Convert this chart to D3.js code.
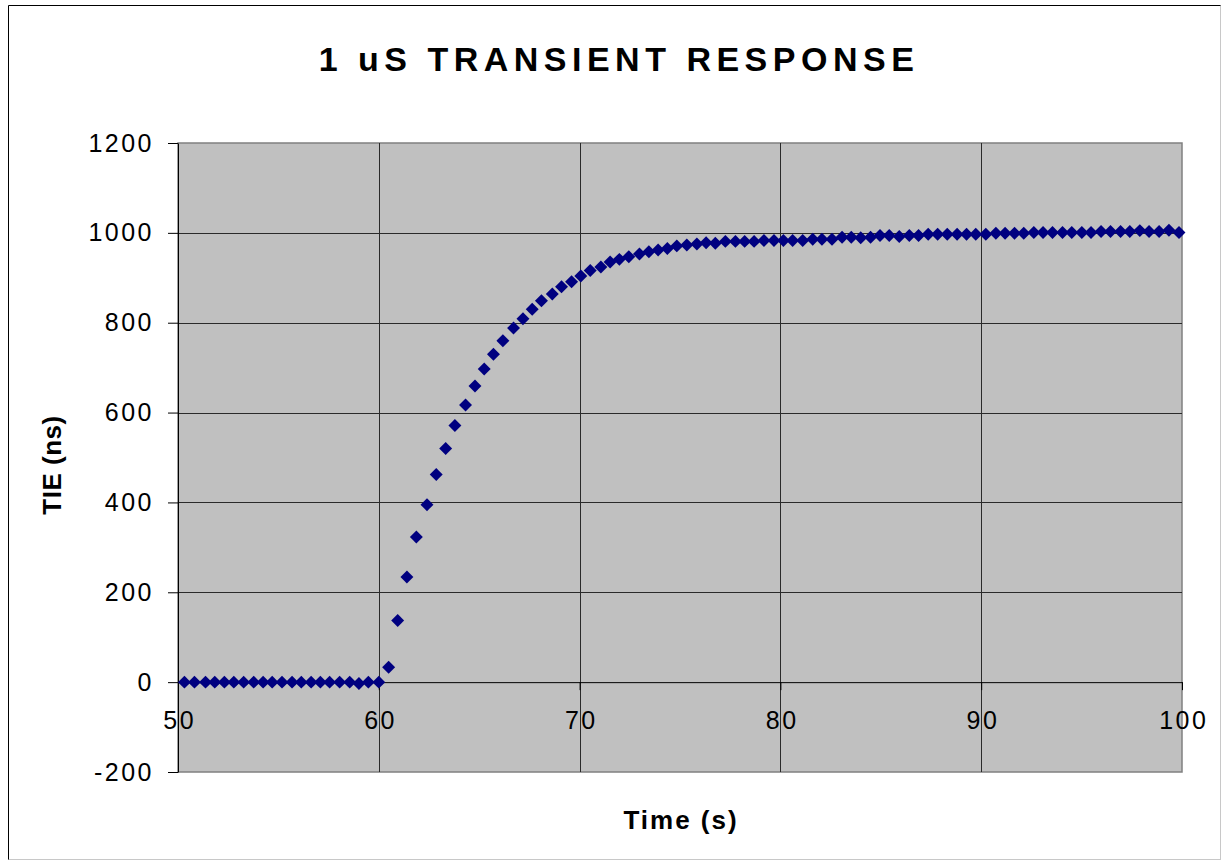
<!DOCTYPE html>
<html>
<head>
<meta charset="utf-8">
<script src="https://cdn.jsdelivr.net/npm/d3@7"></script>
<style>
body { margin:0; background:#fff; }
text { font-family: "Liberation Sans", Arial, sans-serif; }
</style>
</head>
<body>
<svg id="chart" width="1222" height="861"></svg>
<script>
// time stamps (s)
var times = [50.32, 50.82, 51.37, 51.83, 52.31, 52.78, 53.27, 53.77, 54.24, 54.69, 55.18, 55.68, 56.14, 56.63, 57.09, 57.55, 58.05, 58.55, 59.01, 59.48, 60.00,
    60.49, 60.94, 61.40, 61.87, 62.40, 62.86, 63.33, 63.79, 64.32, 64.79, 65.25, 65.71, 66.18, 66.71, 67.18, 67.64, 68.10, 68.64, 69.10, 69.60,
    70.06, 70.53, 71.06, 71.52, 71.98, 72.45, 72.98, 73.45, 73.91, 74.37, 74.84, 75.34, 75.84, 76.30, 76.76, 77.26, 77.76, 78.22, 78.69, 79.18,
    79.68, 80.15, 80.61, 81.11, 81.61, 82.07, 82.57, 83.07, 83.53, 84.00, 84.49,
    84.96, 85.42, 85.92, 86.42, 86.88, 87.36, 87.83, 88.31, 88.80, 89.27, 89.73, 90.23, 90.73, 91.19, 91.66, 92.12, 92.62, 93.08, 93.55, 94.05,
    94.51, 95.01, 95.47, 95.97, 96.44, 96.94, 97.40, 97.90, 98.36, 98.86, 99.35, 99.85];

// TIE values (ns)
var tie = [0, 0, 0, 0, 0, 0, 0, 0, 0, 0, 0, 0, 0, 0, 0, 0, 0, 0, -3, 0, 0,
    33, 137, 234, 323, 395, 462, 520, 571, 617, 659, 697, 730, 760, 788, 809, 830, 849, 864, 880, 891,
    904, 916, 924, 935, 941, 947, 953, 958, 962, 965, 971, 973, 975, 978, 977, 981, 981, 981, 981, 983,
    983, 983, 983, 983, 986, 986, 986, 990, 990, 989, 990,
    994, 994, 992, 994, 994, 997, 997, 997, 997, 997, 997, 997, 999, 999, 999, 999, 1001, 1001, 1001, 1001,
    1001, 1001, 1001, 1003, 1003, 1003, 1003, 1005, 1003, 1003, 1006, 1001];

var xTicks = [50, 60, 70, 80, 90, 100];
var yTicks = [-200, 0, 200, 400, 600, 800, 1000, 1200];

var plain = function(d) { return String(d); };

var svg = d3.select("#chart");

// outer frame
svg.append("line").attr("x1",8.5).attr("y1",5.5).attr("x2",8.5).attr("y2",860).attr("stroke","#000");
svg.append("line").attr("x1",8.5).attr("y1",5.5).attr("x2",1221).attr("y2",5.5).attr("stroke","#000");
svg.append("line").attr("x1",8.5).attr("y1",859.5).attr("x2",1221).attr("y2",859.5).attr("stroke","#c8c8c8");
svg.append("line").attr("x1",1220.5).attr("y1",5.5).attr("x2",1220.5).attr("y2",860).attr("stroke","#c8c8c8");

var margins = {left:178, top:143};
var graph = {width:1004, height:629};

var x = d3.scaleLinear().domain([50,100]).range([0, graph.width]);
var y = d3.scaleLinear().domain([-200,1200]).range([graph.height, 0]);

var g = svg.append("g")
    .attr("transform","translate("+margins.left+","+margins.top+")");

g.append("rect")
    .attr("width",graph.width).attr("height",graph.height)
    .attr("fill","#c0c0c0").attr("stroke","#808080").attr("stroke-width",1.5);

// gridlines
g.selectAll(".hgrid").data(yTicks.filter(function(d){return d>-200 && d<1200 && d!=0;}))
    .enter().append("line")
    .attr("x1",0).attr("x2",graph.width)
    .attr("y1",function(d){return Math.round(y(d))+0.5;})
    .attr("y2",function(d){return Math.round(y(d))+0.5;})
    .attr("stroke","#2a2a2a");
g.selectAll(".vgrid").data(xTicks.filter(function(d){return d>50 && d<100;}))
    .enter().append("line")
    .attr("y1",0).attr("y2",graph.height)
    .attr("x1",function(d){return Math.round(x(d))+0.5;})
    .attr("x2",function(d){return Math.round(x(d))+0.5;})
    .attr("stroke","#2a2a2a");

// y axis
var yAxis = g.append("g")
    .call(d3.axisLeft(y).tickValues(yTicks).tickFormat(plain).tickSize(10).tickSizeOuter(0).tickPadding(14));
yAxis.select(".domain").attr("stroke","#000");
yAxis.selectAll("text").attr("font-size",25).attr("letter-spacing",2.5)
    .attr("font-family","Liberation Sans, Arial, sans-serif").attr("fill","#000");

// x axis at the zero line
var xAxis = g.append("g")
    .attr("transform","translate(0,"+y(0)+")")
    .call(d3.axisBottom(x).tickValues(xTicks).tickFormat(plain).tickSize(8).tickSizeOuter(0).tickPadding(21));
xAxis.select(".domain").attr("stroke","#000");
xAxis.selectAll("text").attr("font-size",25).attr("letter-spacing",2.5)
    .attr("font-family","Liberation Sans, Arial, sans-serif").attr("fill","#000")
    .attr("dx",1.25);

// points
var points = times.map(function(t,i){ return {t:t, v:tie[i]}; });
var diamond = d3.symbol().type(d3.symbolSquare).size(84);
g.selectAll(".pt").data(points).enter().append("path")
    .attr("d",diamond)
    .attr("transform",function(d){return "translate("+x(d.t)+","+y(d.v)+") rotate(45)";})
    .attr("fill","#000080");

// titles
svg.append("text")
    .attr("x",619).attr("y",71)
    .attr("text-anchor","middle")
    .attr("font-size",34).attr("font-weight","bold").attr("letter-spacing",5.5)
    .text("1 uS TRANSIENT RESPONSE");

svg.append("text")
    .attr("x",681).attr("y",829)
    .attr("text-anchor","middle")
    .attr("font-size",26).attr("font-weight","bold").attr("letter-spacing",2)
    .text("Time (s)");

svg.append("text")
    .attr("transform","translate(61,465) rotate(-90)")
    .attr("text-anchor","middle")
    .attr("font-size",26).attr("font-weight","bold").attr("letter-spacing",0.5)
    .text("TIE (ns)");
</script>
</body>
</html>
